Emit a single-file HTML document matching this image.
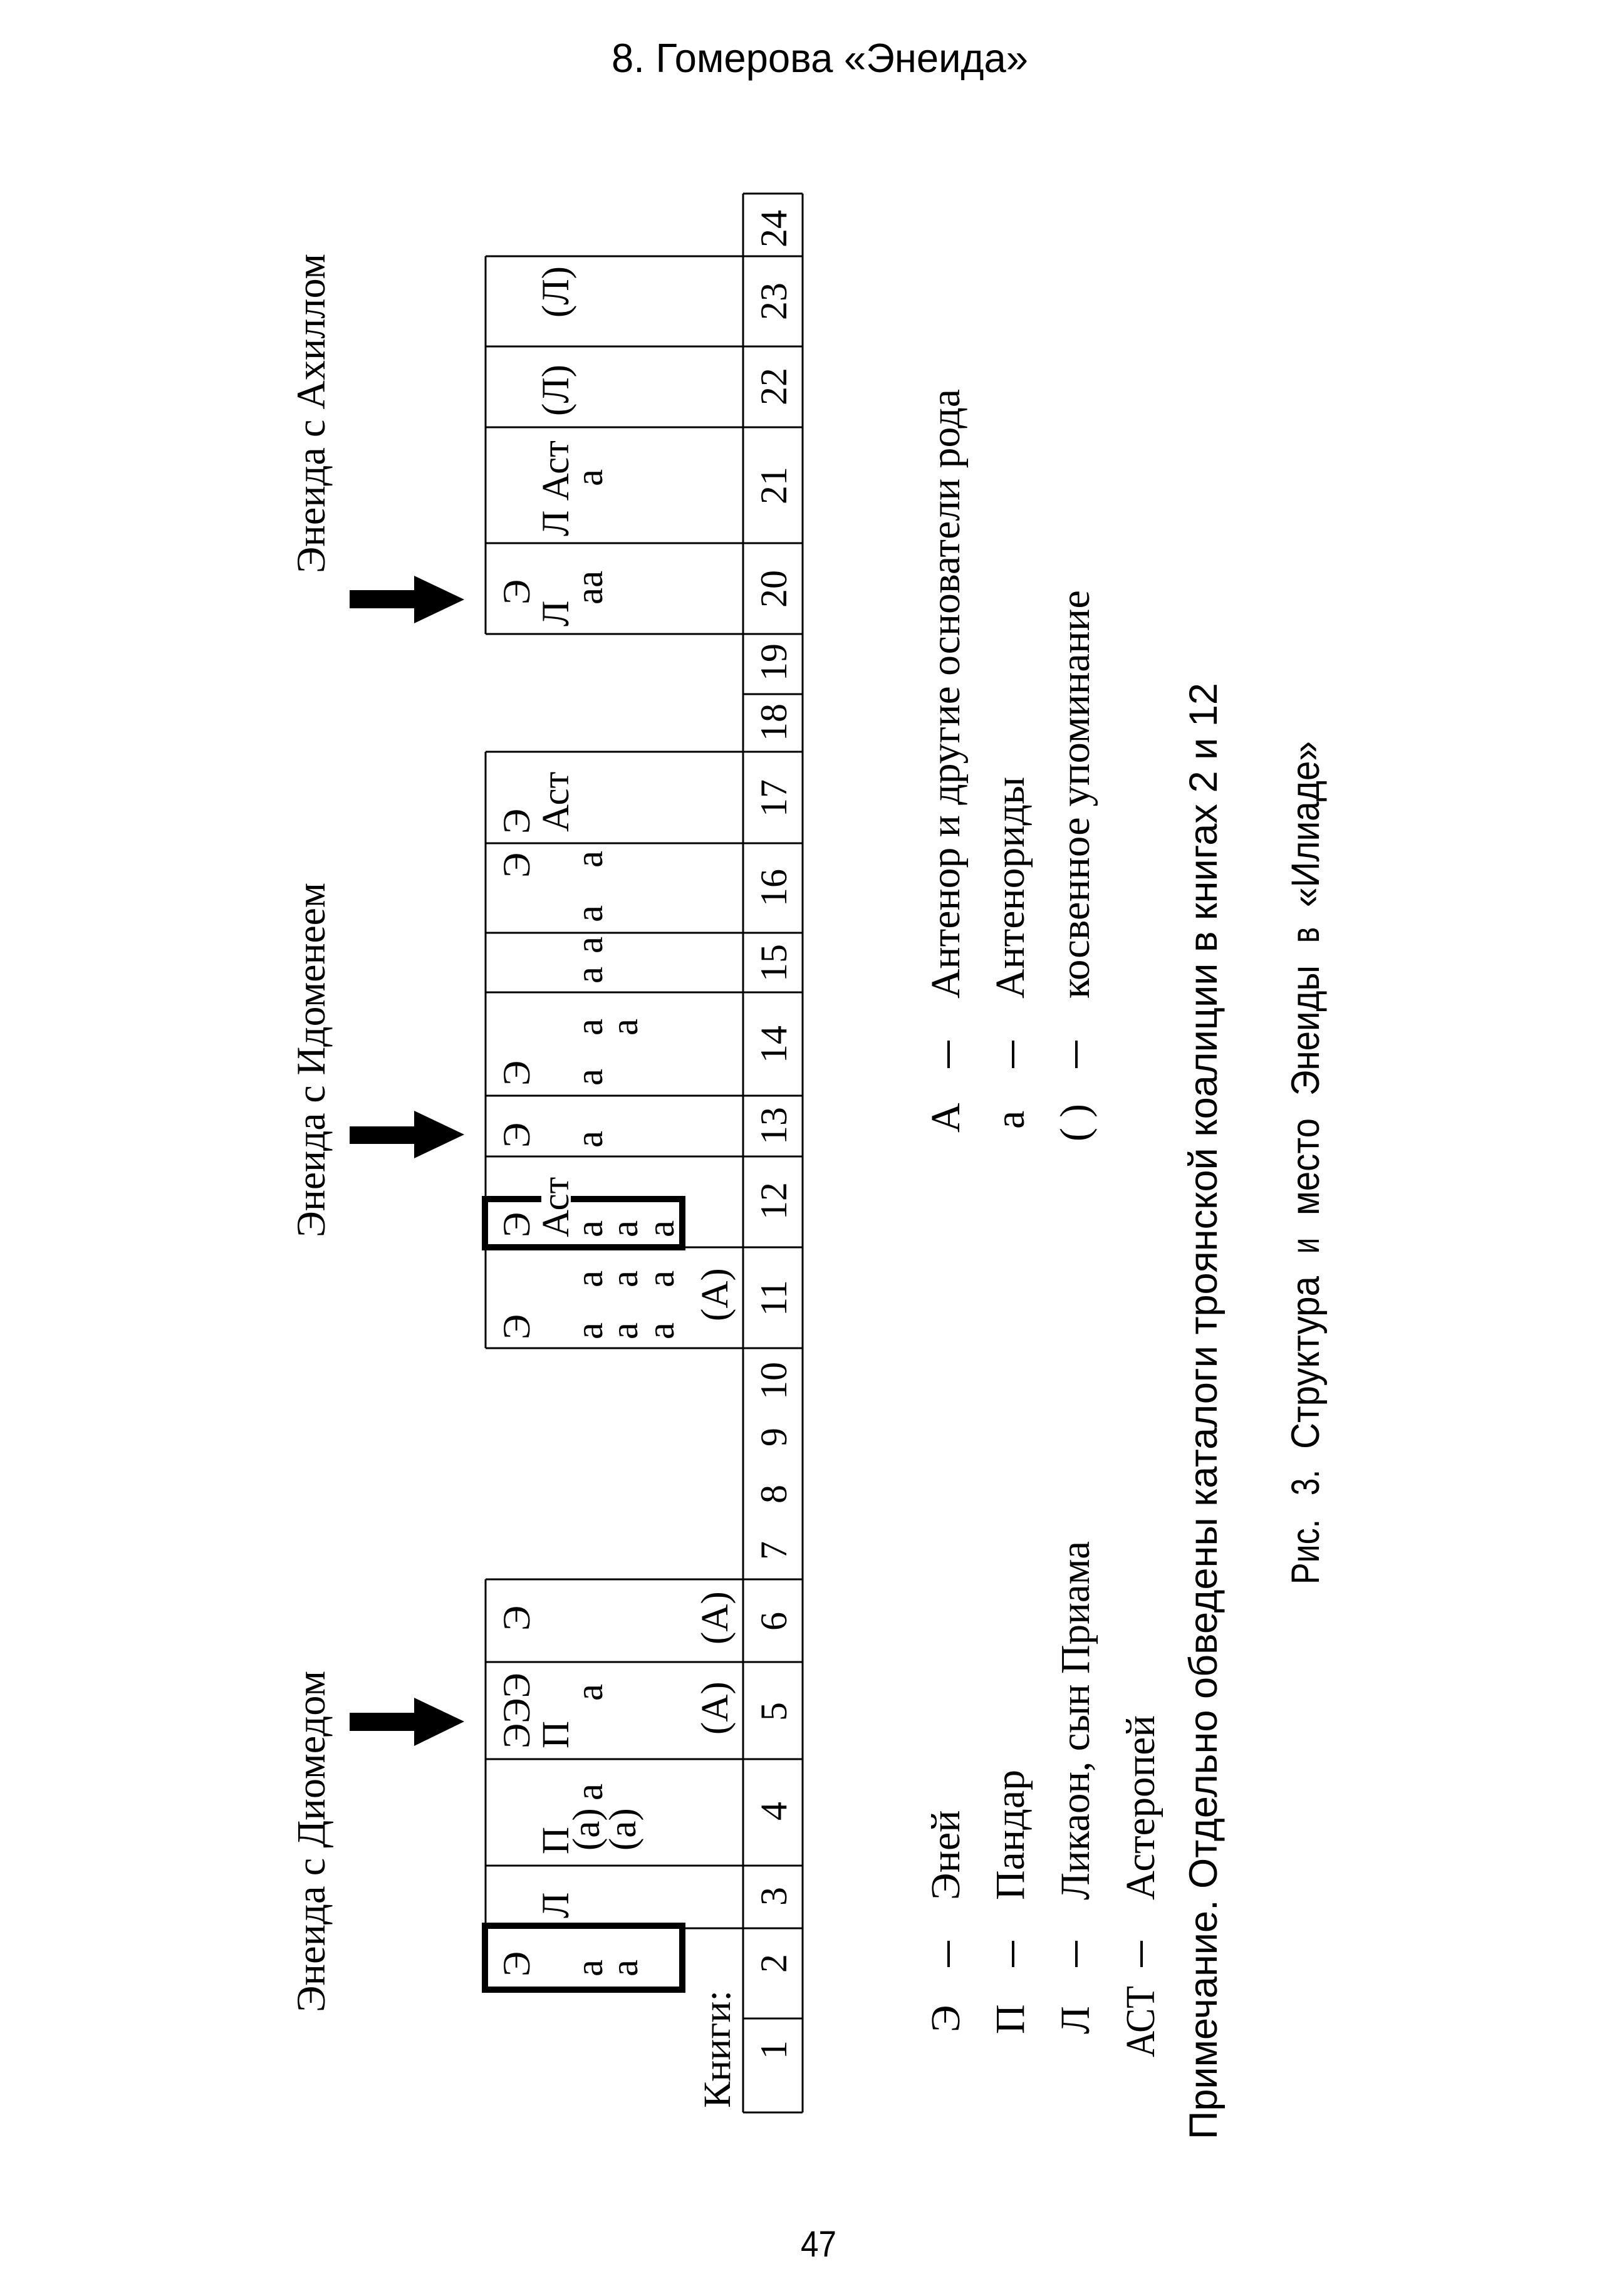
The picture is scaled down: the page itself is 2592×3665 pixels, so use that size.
<!DOCTYPE html>
<html>
<head>
<meta charset="utf-8">
<style>
html,body{margin:0;padding:0;background:#fff;}
svg{display:block;}
</style>
</head>
<body>
<svg xmlns="http://www.w3.org/2000/svg" width="2592" height="3665" viewBox="0 0 2592 3665">
<rect x="0" y="0" width="2592" height="3665" fill="#fff"/>

<!-- Header -->
<text x="976" y="115" font-family="'Liberation Sans', sans-serif" font-size="65" textLength="665" lengthAdjust="spacingAndGlyphs">8. Гомерова «Энеида»</text>

<!-- Page number -->
<text x="1278" y="3602" font-family="'Liberation Sans', sans-serif" font-size="58" textLength="57" lengthAdjust="spacingAndGlyphs">47</text>

<!-- TABLE LINES -->
<g stroke="#000" stroke-width="3" fill="none">
  <line x1="1186" y1="309" x2="1186" y2="3372"/>
  <line x1="1281" y1="309" x2="1281" y2="3372"/>
  <line x1="1186" y1="309" x2="1281" y2="309"/>
  <line x1="1186" y1="3372" x2="1281" y2="3372"/>
  <line x1="1186" y1="1108" x2="1281" y2="1108"/>
  <line x1="1186" y1="3222" x2="1281" y2="3222"/>
  <line x1="775" y1="409" x2="1281" y2="409"/>
  <line x1="775" y1="553" x2="1281" y2="553"/>
  <line x1="775" y1="682" x2="1281" y2="682"/>
  <line x1="775" y1="867" x2="1281" y2="867"/>
  <line x1="775" y1="1012" x2="1281" y2="1012"/>
  <line x1="775" y1="1200" x2="1281" y2="1200"/>
  <line x1="775" y1="1346" x2="1281" y2="1346"/>
  <line x1="775" y1="1489" x2="1281" y2="1489"/>
  <line x1="775" y1="1584" x2="1281" y2="1584"/>
  <line x1="775" y1="1749" x2="1281" y2="1749"/>
  <line x1="775" y1="1846" x2="1281" y2="1846"/>
  <line x1="775" y1="1991" x2="1281" y2="1991"/>
  <line x1="775" y1="2152" x2="1281" y2="2152"/>
  <line x1="775" y1="2521" x2="1281" y2="2521"/>
  <line x1="775" y1="2653" x2="1281" y2="2653"/>
  <line x1="775" y1="2808" x2="1281" y2="2808"/>
  <line x1="775" y1="2978" x2="1281" y2="2978"/>
  <line x1="1094" y1="3078" x2="1281" y2="3078"/>
  <line x1="775" y1="409" x2="775" y2="1012"/>
  <line x1="775" y1="1200" x2="775" y2="2152"/>
  <line x1="775" y1="2521" x2="775" y2="3069"/>
</g>

<!-- Thick boxes -->
<g stroke="#000" stroke-width="10" fill="none">
  <rect x="774" y="1914" width="315" height="77"/>
  <rect x="774" y="3074" width="315" height="102"/>
</g>
<rect x="864" y="1904" width="47" height="19" fill="#fff"/>

<!-- Arrows -->
<g fill="#000">
  <rect x="558" y="942" width="104" height="29"/>
  <polygon points="661,919 741,957 661,995"/>
  <rect x="558" y="1798" width="104" height="28"/>
  <polygon points="661,1773 741,1811 661,1849"/>
  <rect x="558" y="2734" width="104" height="29"/>
  <polygon points="661,2710 741,2748 661,2787"/>
</g>

<!-- Arrow labels -->
<g font-family="'Liberation Serif', serif" font-size="65" fill="#000">
  <text transform="translate(518,915) rotate(-90)" textLength="510" lengthAdjust="spacingAndGlyphs">Энеида с Ахиллом</text>
  <text transform="translate(518,1975) rotate(-90)" textLength="566" lengthAdjust="spacingAndGlyphs">Энеида с Идоменеем</text>
  <text transform="translate(518,3212) rotate(-90)" textLength="545" lengthAdjust="spacingAndGlyphs">Энеида с Диомедом</text>
</g>

<!-- Book numbers -->
<g font-family="'Liberation Serif', serif" font-size="60" fill="#000" text-anchor="middle">
  <text transform="translate(1255,365) rotate(-90)">24</text>
  <text transform="translate(1255,481) rotate(-90)">23</text>
  <text transform="translate(1255,617) rotate(-90)">22</text>
  <text transform="translate(1255,775) rotate(-90)">21</text>
  <text transform="translate(1255,940) rotate(-90)">20</text>
  <text transform="translate(1255,1057) rotate(-90)">19</text>
  <text transform="translate(1255,1153) rotate(-90)">18</text>
  <text transform="translate(1255,1274) rotate(-90)">17</text>
  <text transform="translate(1255,1417) rotate(-90)">16</text>
  <text transform="translate(1255,1537) rotate(-90)">15</text>
  <text transform="translate(1255,1667) rotate(-90)">14</text>
  <text transform="translate(1255,1797) rotate(-90)">13</text>
  <text transform="translate(1255,1917) rotate(-90)">12</text>
  <text transform="translate(1255,2072) rotate(-90)">11</text>
  <text transform="translate(1255,2204) rotate(-90)">10</text>
  <text transform="translate(1255,2294) rotate(-90)">9</text>
  <text transform="translate(1255,2385) rotate(-90)">8</text>
  <text transform="translate(1255,2475) rotate(-90)">7</text>
  <text transform="translate(1255,2588) rotate(-90)">6</text>
  <text transform="translate(1255,2732) rotate(-90)">5</text>
  <text transform="translate(1255,2891) rotate(-90)">4</text>
  <text transform="translate(1255,3027) rotate(-90)">3</text>
  <text transform="translate(1255,3134) rotate(-90)">2</text>
  <text transform="translate(1255,3272) rotate(-90)">1</text>
</g>

<!-- Cell contents -->
<g font-family="'Liberation Serif', serif" font-size="61" fill="#000">
  <text transform="translate(907,507) rotate(-90)">(Л)</text>
  <text transform="translate(907,664) rotate(-90)">(Л)</text>
  <text transform="translate(907,856) rotate(-90)">Л Аст</text>
  <text transform="translate(961,776) rotate(-90)">а</text>
  <text transform="translate(845,965) rotate(-90)">Э</text>
  <text transform="translate(907,1000) rotate(-90)">Л</text>
  <text transform="translate(961,965) rotate(-90)">аа</text>
  <text transform="translate(845,1331) rotate(-90)">Э</text>
  <text transform="translate(907,1328) rotate(-90)">Аст</text>
  <text transform="translate(845,1401) rotate(-90)">Э</text>
  <text transform="translate(961,1385) rotate(-90)">а</text>
  <text transform="translate(961,1472) rotate(-90)">а</text>
  <text transform="translate(961,1522) rotate(-90)">а</text>
  <text transform="translate(961,1570) rotate(-90)">а</text>
  <text transform="translate(845,1733) rotate(-90)">Э</text>
  <text transform="translate(961,1733) rotate(-90)">а</text>
  <text transform="translate(961,1653) rotate(-90)">а</text>
  <text transform="translate(1017,1653) rotate(-90)">а</text>
  <text transform="translate(845,1832) rotate(-90)">Э</text>
  <text transform="translate(961,1832) rotate(-90)">а</text>
  <text transform="translate(845,1975) rotate(-90)">Э</text>
  <text transform="translate(907,1975) rotate(-90)">Аст</text>
  <text transform="translate(961,1975) rotate(-90)">а</text>
  <text transform="translate(1017,1975) rotate(-90)">а</text>
  <text transform="translate(1075,1975) rotate(-90)">а</text>
  <text transform="translate(845,2138) rotate(-90)">Э</text>
  <text transform="translate(961,2138) rotate(-90)">а</text>
  <text transform="translate(961,2055) rotate(-90)">а</text>
  <text transform="translate(1017,2138) rotate(-90)">а</text>
  <text transform="translate(1017,2055) rotate(-90)">а</text>
  <text transform="translate(1075,2138) rotate(-90)">а</text>
  <text transform="translate(1075,2055) rotate(-90)">а</text>
  <text transform="translate(1161,2109) rotate(-90)">(А)</text>
  <text transform="translate(845,2603) rotate(-90)">Э</text>
  <text transform="translate(1161,2625) rotate(-90)">(А)</text>
  <text transform="translate(845,2791) rotate(-90)">ЭЭЭ</text>
  <text transform="translate(907,2791) rotate(-90)">П</text>
  <text transform="translate(961,2715) rotate(-90)">а</text>
  <text transform="translate(1161,2769) rotate(-90)">(А)</text>
  <text transform="translate(907,2960) rotate(-90)">П</text>
  <text transform="translate(956,2954) rotate(-90)">(а)</text>
  <text transform="translate(961,2874) rotate(-90)">а</text>
  <text transform="translate(1014,2954) rotate(-90)">(а)</text>
  <text transform="translate(907,3062) rotate(-90)">Л</text>
  <text transform="translate(845,3155) rotate(-90)">Э</text>
  <text transform="translate(961,3155) rotate(-90)">а</text>
  <text transform="translate(1017,3155) rotate(-90)">а</text>
  <text transform="translate(1165,3365) rotate(-90)" textLength="188" lengthAdjust="spacingAndGlyphs">Книги:</text>
</g>

<!-- Legend -->
<g font-family="'Liberation Serif', serif" font-size="66" fill="#000">
  <text transform="translate(1531,3244) rotate(-90)">Э</text>
  <text transform="translate(1531,3033) rotate(-90)">Эней</text>
  <text transform="translate(1634,3247) rotate(-90)">П</text>
  <text transform="translate(1634,3033) rotate(-90)">Пандар</text>
  <text transform="translate(1738,3247) rotate(-90)">Л</text>
  <text transform="translate(1738,3033) rotate(-90)" textLength="573" lengthAdjust="spacingAndGlyphs">Ликаон, сын Приама</text>
  <text transform="translate(1842,3284) rotate(-90)" textLength="114" lengthAdjust="spacingAndGlyphs">АСТ</text>
  <text transform="translate(1842,3033) rotate(-90)" textLength="295" lengthAdjust="spacingAndGlyphs">Астеропей</text>
  <text transform="translate(1531,1808) rotate(-90)">А</text>
  <text transform="translate(1531,1594) rotate(-90)" textLength="973" lengthAdjust="spacingAndGlyphs">Антенор и другие основатели рода</text>
  <text transform="translate(1634,1802) rotate(-90)">а</text>
  <text transform="translate(1634,1594) rotate(-90)" textLength="354" lengthAdjust="spacingAndGlyphs">Антенориды</text>
  <text transform="translate(1737,1822) rotate(-90)" textLength="60" lengthAdjust="spacingAndGlyphs">( )</text>
  <text transform="translate(1738,1594) rotate(-90)" textLength="652" lengthAdjust="spacingAndGlyphs">косвенное упоминание</text>
</g>
<g fill="#000">
  <rect x="1512" y="3098" width="4" height="42"/>
  <rect x="1615" y="3098" width="4" height="42"/>
  <rect x="1716" y="3098" width="4" height="42"/>
  <rect x="1820" y="3098" width="4" height="42"/>
  <rect x="1512" y="1661" width="4" height="44"/>
  <rect x="1615" y="1661" width="4" height="44"/>
  <rect x="1716" y="1661" width="4" height="44"/>
</g>

<!-- Note -->
<text transform="translate(1942,3415) rotate(-90)" font-family="'Liberation Sans', sans-serif" font-size="63" textLength="2325" lengthAdjust="spacingAndGlyphs">Примечание. Отдельно обведены каталоги троянской коалиции в книгах 2 и 12</text>

<!-- Caption -->
<g font-family="'Liberation Sans', sans-serif" font-size="63" fill="#000">
  <text transform="translate(2105,2529) rotate(-90)" textLength="104" lengthAdjust="spacingAndGlyphs">Рис.</text>
  <text transform="translate(2105,2387) rotate(-90)" textLength="41" lengthAdjust="spacingAndGlyphs">3.</text>
  <text transform="translate(2105,2313) rotate(-90)" textLength="276" lengthAdjust="spacingAndGlyphs">Структура</text>
  <text transform="translate(2105,2001) rotate(-90)" textLength="25" lengthAdjust="spacingAndGlyphs">и</text>
  <text transform="translate(2105,1940) rotate(-90)" textLength="155" lengthAdjust="spacingAndGlyphs">место</text>
  <text transform="translate(2105,1749) rotate(-90)" textLength="208" lengthAdjust="spacingAndGlyphs">Энеиды</text>
  <text transform="translate(2105,1505) rotate(-90)" textLength="25" lengthAdjust="spacingAndGlyphs">в</text>
  <text transform="translate(2105,1448) rotate(-90)" textLength="265" lengthAdjust="spacingAndGlyphs">«Илиаде»</text>
</g>
</svg>
</body>
</html>
